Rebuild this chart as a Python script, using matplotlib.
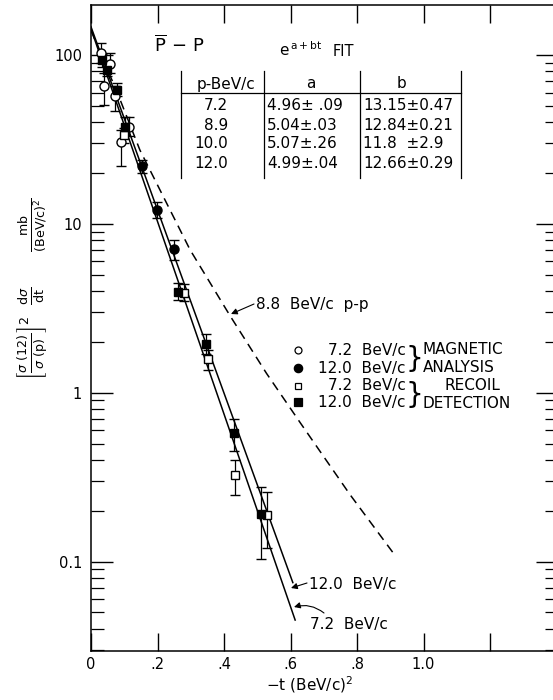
import matplotlib
matplotlib.use("Agg")
import matplotlib.pyplot as plt
import numpy as np
from matplotlib.lines import Line2D
from matplotlib.patches import FancyArrowPatch
from matplotlib.ticker import LogLocator, NullFormatter, NullLocator

#DATOS

#7.2 BeV/c, análisis magnético (círculos abiertos)
mag72_t = [0.029, 0.040, 0.057, 0.072, 0.090, 0.115]
mag72_y = [103, 66, 89, 57, 30.5, 37.5]
mag72_lo = [90, 50.5, 78, 46.5, 22, 33]
mag72_hi = [118, 78, 103, 66, 36, 43]

#12.0 BeV/c, análisis magnético (círculos llenos)
mag12_t = [0.152, 0.198, 0.250]
mag12_y = [22.0, 12.1, 7.1]
mag12_lo = [20, 10.8, 6.1]
mag12_hi = [24, 13.5, 8.0]

#7.2 BeV/c, detección de retroceso (cuadrados abiertos)
rec72_t = [0.100, 0.280, 0.351, 0.433, 0.530]
rec72_y = [33.5, 3.9, 1.59, 0.327, 0.189]
rec72_lo = [30, 3.5, 1.36, 0.247, 0.12]
rec72_hi = [37, 4.4, 1.78, 0.398, 0.258]

#12.0 BeV/c, detección de retroceso (cuadrados llenos)
rec12_t = [0.034, 0.047, 0.077, 0.102, 0.261, 0.345, 0.430, 0.510]
rec12_y = [93, 82, 62, 37.5, 3.95, 1.94, 0.58, 0.192]
rec12_lo = [85, 75, 57, 34, 3.55, 1.7, 0.45, 0.103]
rec12_hi = [101, 90, 68, 43, 4.45, 2.22, 0.70, 0.278]

#rectas del ajuste e^(a+bt)
fit12_t = [0.0, 0.607]
fit12_y = [147, 0.075]
fit72_t = [0.0, 0.614]
fit72_y = [143, 0.045]

#curva p-p a 8.8 BeV/c
pp_t = [0.0, 0.082, 0.147, 0.298, 0.418, 0.528, 0.629, 0.779, 0.908]
pp_y = [140, 58, 27.4, 7.02, 2.86, 1.30, 0.665, 0.249, 0.113]

#tabla
tab_p = ["7.2", "8.9", "10.0", "12.0"]
tab_a = ["4.96\u00b1 .09", "5.04\u00b1.03", "5.07\u00b1.26", "4.99\u00b1.04"]
tab_b = ["13.15\u00b10.47", "12.84\u00b10.21", "11.8  \u00b12.9", "12.66\u00b10.29"]

x_ticks = [0, 0.2, 0.4, 0.6, 0.8, 1.0, 1.2]
x_labels = ["0", ".2", ".4", ".6", ".8", "1.0", ""]
y_ticks = [0.1, 1, 10, 100]
y_labels = ["0.1", "1", "10", "100"]

#FIGURA
W, H = 553, 700
plt.rcParams["mathtext.fontset"] = "dejavusans"
FS = 11


def fx(x):
    return x / W


def fy(y):
    return 1 - y / H


fig = plt.figure(figsize=(W / 100, H / 100), dpi=100)
ax = fig.add_axes([91 / W, (H - 651) / H, (558 - 91) / W, (651 - 5) / H])
ax.set_yscale("log")
ax.set_xlim(0, 1.4 * 467 / 465.5)
ax.set_ylim(0.0295, 198)

for s in ax.spines.values():
    s.set_linewidth(1.1)

ax.set_xticks(x_ticks)
ax.set_xticklabels(x_labels)
ax.xaxis.set_minor_locator(NullLocator())
ax.set_yticks(y_ticks)
ax.set_yticklabels(y_labels)
ax.yaxis.set_minor_locator(LogLocator(base=10, subs=np.arange(2, 10)))
ax.yaxis.set_minor_formatter(NullFormatter())

ax.tick_params(axis="both", which="both", direction="in", top=True, right=True)
ax.tick_params(axis="y", which="major", length=16, width=1.0, pad=6.5, labelsize=10.5)
ax.tick_params(axis="y", which="minor", length=9.5, width=0.9)
ax.tick_params(axis="x", which="major", length=13, width=1.0, pad=4, labelsize=10.5)

#curvas
ax.plot(pp_t, pp_y, color="k", lw=1.1, ls=(0, (6, 4)))
ax.plot(fit12_t, fit12_y, color="k", lw=1.1)
ax.plot(fit72_t, fit72_y, color="k", lw=1.1)


def puntos(t, y, lo, hi, marker, fill, ms):
    y = np.array(y)
    err = [y - np.array(lo), np.array(hi) - y]
    ax.errorbar(t, y, yerr=err, fmt=marker, ms=ms, mfc=fill, mec="k", mew=1.0,
                ecolor="k", elinewidth=0.9, capsize=3.5, capthick=0.9, zorder=5)


puntos(mag72_t, mag72_y, mag72_lo, mag72_hi, "o", "white", 6.5)
puntos(mag12_t, mag12_y, mag12_lo, mag12_hi, "o", "k", 6.5)
puntos(rec72_t, rec72_y, rec72_lo, rec72_hi, "s", "white", 6)
puntos(rec12_t, rec12_y, rec12_lo, rec12_hi, "s", "k", 6)

#titulo y ajuste
fig.text(fx(154), fy(45), r"$\overline{\mathrm{P}}\,-\,\mathrm{P}$", fontsize=13, va="center")
fig.text(fx(279), fy(50), r"$\mathrm{e}^{\,\mathrm{a+bt}}$", fontsize=11, va="center")
fig.text(fx(333), fy(51), "FIT", fontsize=10.5, va="center")

#tabla
for xv in [181, 264, 360, 461]:
    fig.add_artist(Line2D([fx(xv), fx(xv)], [fy(71), fy(178)], color="k", lw=0.9))
fig.add_artist(Line2D([fx(181), fx(461)], [fy(93), fy(93)], color="k", lw=0.9))
fig.text(fx(226), fy(84), "p-BeV/c", fontsize=FS, ha="center", va="center")
fig.text(fx(311), fy(84), "a", fontsize=FS, ha="center", va="center")
fig.text(fx(402), fy(84), "b", fontsize=FS, ha="center", va="center")
for i, yv in enumerate([106, 125, 144, 164]):
    fig.text(fx(228), fy(yv), tab_p[i], fontsize=FS, ha="right", va="center")
    fig.text(fx(267), fy(yv), tab_a[i], fontsize=FS, ha="left", va="center")
    fig.text(fx(363), fy(yv), tab_b[i], fontsize=FS, ha="left", va="center")

#leyenda
leg_rows = [350, 368, 386, 402]
leg_marks = [("o", "white", 5), ("o", "k", 6), ("s", "white", 5), ("s", "k", 5.5)]
leg_text = ["7.2  BeV/c", "12.0  BeV/c", "7.2  BeV/c", "12.0  BeV/c"]
for yv, (m, f, s), txt in zip(leg_rows, leg_marks, leg_text):
    fig.add_artist(Line2D([fx(298)], [fy(yv)], marker=m, mfc=f, mec="k", ms=s, mew=0.9, ls="none"))
    fig.text(fx(406), fy(yv), txt, fontsize=FS, ha="right", va="center")
fig.text(fx(414), fy(359), "}", fontsize=20, ha="center", va="center")
fig.text(fx(414), fy(395), "}", fontsize=20, ha="center", va="center")
fig.text(fx(423), fy(350), "MAGNETIC", fontsize=FS, va="center")
fig.text(fx(423), fy(368), "ANALYSIS", fontsize=FS, va="center")
fig.text(fx(472), fy(386), "RECOIL", fontsize=FS, ha="center", va="center")
fig.text(fx(423), fy(403), "DETECTION", fontsize=FS, va="center")

#anotaciones
fig.text(fx(256), fy(304), "8.8  BeV/c  p-p", fontsize=FS, va="center")
fig.text(fx(309), fy(585), "12.0  BeV/c", fontsize=FS, va="center")
fig.text(fx(310), fy(624), "7.2  BeV/c", fontsize=FS, va="center")
flecha = dict(arrowstyle="-|>", color="k", lw=0.8, mutation_scale=9, shrinkA=0, shrinkB=0)
fig.add_artist(FancyArrowPatch((fx(254), fy(304)), (fx(231), fy(314)),
                               transform=fig.transFigure, **flecha))
fig.add_artist(FancyArrowPatch((fx(307), fy(583)), (fx(291), fy(588)),
                               transform=fig.transFigure, **flecha))
fig.add_artist(FancyArrowPatch((fx(324), fy(613)), (fx(294), fy(607)),
                               transform=fig.transFigure,
                               connectionstyle="arc3,rad=0.25", **flecha))

#ejes
fig.text(fx(310), fy(685), r"$-\mathrm{t}\ (\mathrm{BeV/c})^2$", fontsize=11, ha="center", va="center")
fig.text(fx(33), fy(289),
         r"$\left[\frac{\sigma\ (12)}{\sigma\ (\mathrm{p})}\right]^2\ \ \frac{\mathrm{d}\sigma}{\mathrm{dt}}\qquad \frac{\mathrm{mb}}{(\mathrm{BeV/c})^2}$",
         fontsize=13, rotation=90, ha="center", va="center")

fig.savefig("out.png", dpi=100)
